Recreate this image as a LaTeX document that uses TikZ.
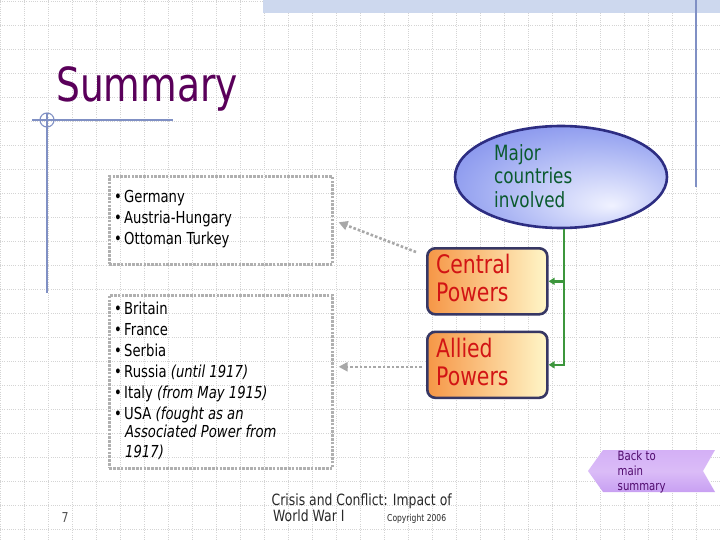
\documentclass[tikz,border=0pt]{standalone}
\usepackage{fontspec}
\setmainfont[FakeStretch=0.8]{DejaVu Sans}
\usetikzlibrary{arrows.meta,shapes.geometric,calc}
\definecolor{gridgray}{RGB}{212,212,212}
\definecolor{bandblue}{RGB}{205,216,238}
\definecolor{decoblue}{RGB}{128,144,196}
\definecolor{titlepurple}{RGB}{90,0,90}
\definecolor{dotgray}{RGB}{176,176,176}
\definecolor{ellborder}{RGB}{45,45,130}
\definecolor{ellhi}{RGB}{240,242,255}
\definecolor{ellmid}{RGB}{160,172,242}
\definecolor{ellout}{RGB}{88,104,228}
\definecolor{ellgreen}{RGB}{10,90,45}
\definecolor{boxborder}{RGB}{55,55,100}
\definecolor{boxorange}{RGB}{246,150,70}
\definecolor{boxlight}{RGB}{255,246,200}
\definecolor{powred}{RGB}{210,20,20}
\definecolor{connectgreen}{RGB}{60,150,60}
\definecolor{arrowgray}{RGB}{168,168,168}
\definecolor{backpurple}{RGB}{80,10,110}
\definecolor{backleft}{RGB}{212,176,246}
\definecolor{backright}{RGB}{200,160,242}
\definecolor{footgray}{RGB}{40,40,40}
\pgfdeclareradialshading{ellshade}{\pgfpoint{12bp}{-14bp}}{color(0bp)=(ellhi); color(26bp)=(ellmid); color(52bp)=(ellout); color(60bp)=(ellout)}
\newcommand\bul{\makebox[10pt][l]{\textbullet}}
\begin{document}
\begin{tikzpicture}[x=1pt,y=-1pt,
  gridline/.style={draw=gridgray, line width=0.6pt, dash pattern=on 0.8pt off 1.4pt},
  decoline/.style={draw=decoblue, line width=1.1pt},
  dotbox/.style={draw=dotgray, line width=2.6pt, dash pattern=on 2.6pt off 1.2pt, inner sep=0},
  txt/.style={anchor=base west, inner sep=0},
  powerbox/.style={draw=boxborder, line width=2.6pt, rounded corners=8pt, left color=boxorange, right color=boxlight, inner sep=0, anchor=north west, minimum width=120pt, minimum height=66pt},
  greenline/.style={draw=connectgreen, line width=2.6pt, -{Triangle[length=6pt,width=7pt]}},
  grayarrow/.style={draw=arrowgray, line width=2.6pt, dash pattern=on 2.6pt off 2pt, -{Triangle[length=9pt,width=9pt]}}]
\useasboundingbox (0,0) rectangle (720,540);
\fill[white] (0,0) rectangle (720,540);
\foreach \x in {0,24,...,720} \draw[gridline] (\x,0) -- (\x,540);
\foreach \y in {1,25,...,529} \draw[gridline] (0,\y) -- (720,\y);
\fill[bandblue] (263,0) rectangle (720,13);
\draw[decoline] (696,0) -- (696,187);
\draw[decoline] (32,120) -- (173,120);
\draw[decoline] (47,113) -- (47,293);
\draw[decoline] (47,120) circle (7pt);
\node[txt, text=titlepurple, font=\fontsize{47}{47}\selectfont] (title) at (56,102) {Summary};
% boxes of countries
\node[dotbox, anchor=north west, minimum width=223pt, minimum height=88pt] (box1) at (108,175) {};
\node[dotbox, anchor=north west, minimum width=223pt, minimum height=173pt] (box2) at (108,294) {};
\node[txt, font=\fontsize{16.5}{21}\selectfont] (list1) at (114,203) {\parbox[t]{215pt}{\raggedright
\bul Germany\\ \bul Austria-Hungary\\ \bul Ottoman Turkey}};
\node[txt, font=\fontsize{16.5}{21}\selectfont] (list2) at (114,314) {\parbox[t]{215pt}{\raggedright
\bul Britain\\ \bul France\\ \bul Serbia\\ \bul Russia \textit{(until 1917)}\\ \bul Italy \textit{(from May 1915)}\\ \bul USA \textit{(fought as an}\\[-3pt] \hspace*{11pt}\textit{Associated Power from}\\[-1pt] \hspace*{11pt}\textit{1917)}}};
% ellipse
\node[ellipse, draw=ellborder, line width=2.6pt, shading=ellshade, minimum width=212pt, minimum height=102pt, inner sep=0] (ell) at (561,177) {};
\node[txt, text=ellgreen, font=\fontsize{21}{23.3}\selectfont] (elltext) at (494,160.7) {\parbox[t]{120pt}{Major\\countries\\involved}};
% power boxes
\node[powerbox] (central) at (426,247) {};
\node[powerbox] (allied) at (426,330.5) {};
\node[txt, text=powred, font=\fontsize{25.5}{28.4}\selectfont] (centraltext) at (436,273.3) {\parbox[t]{110pt}{Central\\Powers}};
\node[txt, text=powred, font=\fontsize{25.5}{28}\selectfont] (alliedtext) at (436,357.3) {\parbox[t]{110pt}{Allied\\Powers}};
% connectors
\coordinate (trunk) at ([xshift=3pt]ell.south);
\draw[greenline] (trunk) |- (allied.east);
\draw[greenline] (trunk |- central.east) -- (central.east);
\coordinate (ctail) at ([xshift=-10pt,yshift=-5pt]central.north west);
\draw[grayarrow] (ctail) -- ([xshift=5pt,yshift=-2pt]box1.east);
\coordinate (atail) at ([xshift=-4pt,yshift=-2pt]allied.west);
\draw[grayarrow] (atail) -- ($(box2.east |- atail)+(5,0)$);
% footer
\node[txt, text=footgray, font=\fontsize{15.5}{16}\selectfont] (foot1) at (271.5,505.5) {Crisis and Conflict: Impact of};
\node[txt, text=footgray, font=\fontsize{15.5}{16}\selectfont] (foot2) at (273,521.7) {World War I};
\node[txt, text=footgray, font=\fontsize{9.5}{10}\selectfont] (copy) at (387,521.7) {Copyright 2006};
\node[txt, text=footgray!80, font=\fontsize{13.7}{14}\selectfont] (pagenum) at (61.5,522) {7};
\shade[top color=backleft, bottom color=backright, middle color=backleft!85!white] (603,450) -- (715,450) -- (703,471) -- (715,492) -- (603,492) -- (588,471) -- cycle;
\node[txt, text=backpurple, font=\fontsize{12.7}{15}\selectfont] (back) at (617.5,460.5) {\parbox[t]{80pt}{Back to\\main\\summary}};
\end{tikzpicture}
\end{document}
